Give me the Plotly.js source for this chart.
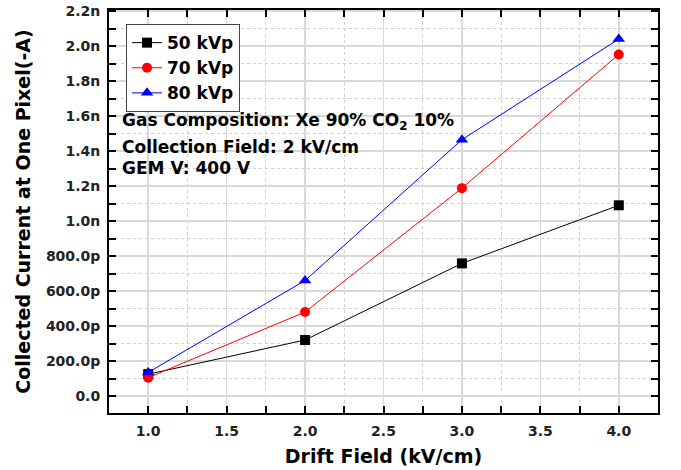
<!DOCTYPE html>
<html>
<head>
<meta charset="utf-8">
<script src="https://cdn.plot.ly/plotly-3.0.1.min.js"></script>
<style>html,body{margin:0;padding:0;background:#fff;}#chart{width:681px;height:470px;}</style>
</head>
<body>
<div id="chart"></div>
<script>
const driftField = [1.0, 2.0, 3.0, 4.0];
const kvp50 = [125e-12, 320e-12, 758e-12, 1090e-12];
const kvp70 = [105e-12, 480e-12, 1188e-12, 1952e-12];
const kvp80 = [135e-12, 660e-12, 1465e-12, 2040e-12];
const seriesNames = ["50 kVp", "70 kVp", "80 kVp"];
const xTickVals = [1.0, 1.5, 2.0, 2.5, 3.0, 3.5, 4.0];
const xTickText = ["1.0", "1.5", "2.0", "2.5", "3.0", "3.5", "4.0"];
const yTickVals = [0, 200e-12, 400e-12, 600e-12, 800e-12, 1.0e-9, 1.2e-9, 1.4e-9, 1.6e-9, 1.8e-9, 2.0e-9, 2.2e-9];
const yTickText = ["0.0", "200.0p", "400.0p", "600.0p", "800.0p", "1.0n", "1.2n", "1.4n", "1.6n", "1.8n", "2.0n", "2.2n"];
const notes = ["Gas Composition: Xe 90% CO<sub>2</sub> 10%", "Collection Field: 2 kV/cm", "GEM V: 400 V"];

const FONT = "DejaVu Sans, Liberation Sans, sans-serif";
const colors = ["#000000", "#ff0000", "#0000ff"];
const symbols = ["square", "circle", "triangle-up"];
const ys = [kvp50, kvp70, kvp80];

const traces = ys.map((y, i) => ({
  x: driftField, y: y, name: seriesNames[i], type: "scatter", mode: "lines+markers",
  line: {color: colors[i], width: 1},
  marker: {symbol: symbols[i], color: colors[i], size: i === 2 ? 11 : 10, line: {width: 0}}
}));

const axisCommon = {
  showline: true, linecolor: "#000", linewidth: 2, mirror: "ticks",
  ticks: "inside", ticklen: 7, tickwidth: 2, tickcolor: "#000",
  showgrid: true, gridcolor: "#d9d9d9", gridwidth: 1.5, zeroline: false,
  tickfont: {family: FONT, size: 14, color: "#222", weight: "bold"},
  minor: {ticks: "inside", ticklen: 7, tickwidth: 2, tickcolor: "#000", showgrid: true, gridcolor: "#cfcfcf", griddash: "dot", gridwidth: 1}
};

const layout = {
  width: 681, height: 470,
  margin: {l: 109, r: 23, t: 10, b: 57},
  paper_bgcolor: "#fff", plot_bgcolor: "#fff",
  showlegend: true,
  legend: {x: 0.031, y: 0.965, xanchor: "left", yanchor: "top", bgcolor: "#fff", bordercolor: "#444", borderwidth: 1,
    font: {family: FONT, size: 17, color: "#000", weight: "bold"}, tracegroupgap: 0, itemwidth: 30},
  xaxis: Object.assign({}, axisCommon, {
    range: [0.75, 4.25], tickmode: "array", tickvals: xTickVals, ticktext: xTickText, ticklabelstandoff: 4,
    minor: Object.assign({}, axisCommon.minor, {dtick: 0.25, tick0: 0.75}),
    title: {text: "Drift Field (kV/cm)", font: {family: FONT, size: 19, color: "#000", weight: "bold"}, standoff: 12}
  }),
  yaxis: Object.assign({}, axisCommon, {
    range: [-0.097e-9, 2.206e-9], tickmode: "array", tickvals: yTickVals, ticktext: yTickText, ticklabelstandoff: 4,
    minor: Object.assign({}, axisCommon.minor, {dtick: 100e-12, tick0: -100e-12}),
    title: {text: "Collected Current at One Pixel(-A)", font: {family: FONT, size: 19, color: "#000", weight: "bold"}, standoff: 10}
  }),
  annotations: notes.map((t, i) => ({
    text: t, xref: "paper", yref: "paper", x: (120 - 109) / 549, y: 1 - ([121, 147, 168][i] - 10) / 403,
    xanchor: "left", yanchor: "middle", showarrow: false,
    font: {family: FONT, size: 17, color: "#000", weight: "bold"}
  }))
};

Plotly.newPlot("chart", traces, layout, {displayModeBar: false, staticPlot: true});
</script>
</body>
</html>
